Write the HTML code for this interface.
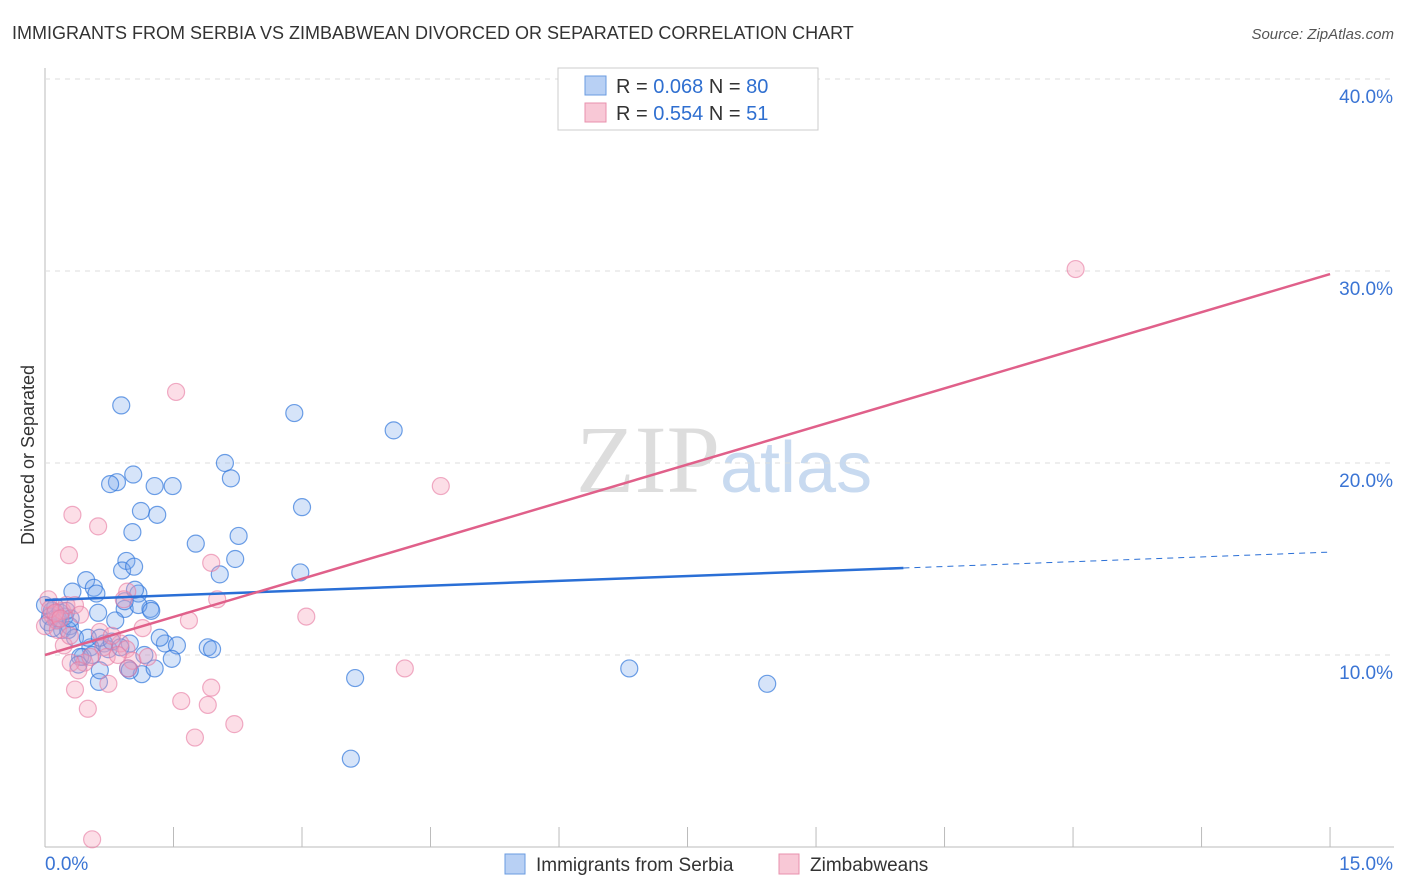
<!DOCTYPE html>
<html><head><meta charset="utf-8"><style>
body{margin:0;background:#fff;font-family:"Liberation Sans",sans-serif;}
svg{display:block}
</style></head><body>
<svg width="1406" height="892" id="c">
<text x="12" y="39" font-size="18" fill="#333">IMMIGRANTS FROM SERBIA VS ZIMBABWEAN DIVORCED OR SEPARATED CORRELATION CHART</text>
<text x="1394" y="39" font-size="15" fill="#555" font-style="italic" text-anchor="end">Source: ZipAtlas.com</text>
<text x="720" y="492" font-size="96" fill="#ddd" text-anchor="end" font-family="Liberation Serif">ZIP</text>
<text x="720" y="492" font-size="72" fill="#c8daf0">atlas</text>
<text transform="translate(34,455) rotate(-90)" font-size="18" fill="#333" text-anchor="middle">Divorced or Separated</text>
<g id="grid"></g><g id="pts"></g><g id="lines"></g>
<g>
<rect x="558" y="68" width="260" height="62" fill="#fff" stroke="#ccc"/>
<rect x="585" y="76" width="21" height="19" fill="#b8d0f4" stroke="#6a9be0"/>
<rect x="585" y="103" width="21" height="19" fill="#f8c8d6" stroke="#e891ad"/>
<text x="616" y="93" font-size="20" fill="#333">R = <tspan fill="#2f6fd0">0.068</tspan>   N = <tspan fill="#2f6fd0">80</tspan></text>
<text x="616" y="120" font-size="20" fill="#333">R = <tspan fill="#2f6fd0">0.554</tspan>   N =  <tspan fill="#2f6fd0">51</tspan></text>
</g>
<g>
<rect x="505" y="854" width="20" height="20" fill="#b8d0f4" stroke="#6a9be0"/>
<text x="536" y="871" font-size="19" fill="#333">Immigrants from Serbia</text>
<rect x="779" y="854" width="20" height="20" fill="#f8c8d6" stroke="#e891ad"/>
<text x="810" y="871" font-size="19" fill="#333">Zimbabweans</text>
</g>
</svg>
<script>
const yTicks=[10,20,30,40];
const xTickLabels=["0.0%","15.0%"];
const blueX=[0.89,2.91,4.07,2.10,1.03,0.84,0.76,1.28,1.49,2.17,3.00,1.12,1.31,1.02,2.26,1.76,0.95,2.22,0.90,1.04,2.04,2.98,0.48,0.32,0.57,1.09,0.60,0.93,1.23,1.09,1.24,0.62,0.82,1.40,1.54,1.90,1.95,0.99,0.69,0.53,0.74,0.44,1.16,1.48,0.97,1.13,1.28,0.63,3.62,6.82,8.43,3.57,0.08,0.14,0.20,0.06,0.12,0.29,0.04,0.23,0.35,0.41,0.50,0.64,0.78,0.88,1.34,0.18,0.27,0.39,0.55,0.64,0.99,0.93,1.05,0.00,0.09,0.15,0.25,0.30];
const blueY=[23.0,22.6,21.7,20.0,19.4,19.0,18.9,18.8,18.8,19.2,17.7,17.5,17.3,16.4,16.2,15.8,14.9,15.0,14.4,14.6,14.2,14.3,13.9,13.3,13.5,13.2,13.2,12.4,12.4,12.6,12.3,12.2,11.8,10.6,10.5,10.4,10.3,10.6,10.6,10.4,10.3,9.9,10.0,9.8,9.3,9.0,9.3,8.6,8.8,9.3,8.5,4.6,12.3,11.8,11.3,12.0,12.5,11.5,11.7,12.0,10.9,9.9,10.9,10.9,10.7,10.4,10.9,12.2,11.3,9.5,10.0,9.2,9.2,12.8,13.4,12.6,11.4,11.9,12.3,11.9];
const pinkX=[12.03,1.53,4.62,0.32,0.62,0.28,1.94,2.01,3.05,1.68,1.14,0.96,0.92,0.88,0.68,0.95,1.02,1.20,0.46,0.30,0.39,0.53,0.72,4.20,0.35,0.74,0.97,1.94,1.59,1.90,0.50,2.21,1.75,0.55,0.08,0.04,0.13,0.20,0.00,0.25,0.15,0.35,0.41,0.22,0.64,0.78,0.85,0.06,0.29,0.12,0.18];
const pinkY=[30.1,23.7,18.8,17.3,16.7,15.2,14.8,12.9,12.0,11.8,11.4,13.3,12.9,10.6,10.4,10.3,9.7,9.9,9.6,9.6,9.2,9.9,9.9,9.3,8.2,8.5,9.3,8.3,7.6,7.4,7.2,6.4,5.7,0.4,12.1,12.9,11.8,12.3,11.5,12.6,11.3,12.6,12.1,10.5,11.2,11.0,10.0,12.4,11.0,12.2,11.9];
const blueLine=[[0,12.86],[10.02,14.53],[15,15.36]];
const pinkLine=[[0,10.0],[15,29.84]];
const X=v=>45+v*85.67, Y=v=>847-v*19.2;
const ns="http://www.w3.org/2000/svg";
function mk(t,a,p){const e=document.createElementNS(ns,t);for(const k in a)e.setAttribute(k,a[k]);p.appendChild(e);return e;}
const g=document.getElementById('grid');
let ax=mk('line',{x1:45,y1:68,x2:45,y2:847,stroke:'#bbb'},g);


let bx=mk('line',{x1:45,y1:847,x2:1394,y2:847,stroke:'#bbb'},g);


for(let i=1;i<=10;i++){let t=mk('line',{x1:X(i*1.5),x2:X(i*1.5),y1:827,y2:847,stroke:'#bbb'},g);

}
yTicks.forEach(v=>{let l=mk('line',{x1:45,x2:1394,y1:Y(v),y2:Y(v),stroke:'#ddd','stroke-dasharray':'5,5'},g);


let t=mk('text',{x:1393,y:Y(v)+24,'font-size':19,fill:'#3a74d4','text-anchor':'end'},g);t.textContent=v.toFixed(1)+'%';

});
xTickLabels.forEach((s,i)=>{let t=mk('text',{x:i?1393:45,y:870,'font-size':19,fill:'#3a74d4','text-anchor':i?'end':'start'},g);t.textContent=s;

});
const p=document.getElementById('pts');
blueX.forEach((v,i)=>{let c=mk('circle',{cx:X(v),cy:Y(blueY[i]),r:8.5,fill:'rgba(120,165,235,0.3)',stroke:'rgba(50,120,220,0.7)','stroke-width':1.2},p);

});
pinkX.forEach((v,i)=>{let c=mk('circle',{cx:X(v),cy:Y(pinkY[i]),r:8.5,fill:'rgba(245,160,185,0.35)',stroke:'rgba(230,120,160,0.6)','stroke-width':1.2},p);

});
const L=document.getElementById('lines');
let b1=mk('line',{x1:X(blueLine[0][0]),y1:Y(blueLine[0][1]),x2:X(blueLine[1][0]),y2:Y(blueLine[1][1]),stroke:'#2a6fd6','stroke-width':2.5},L);


let b2=mk('line',{x1:X(blueLine[1][0]),y1:Y(blueLine[1][1]),x2:X(blueLine[2][0]),y2:Y(blueLine[2][1]),stroke:'#2a6fd6','stroke-width':1,'stroke-dasharray':'6,5'},L);


let p1=mk('line',{x1:X(pinkLine[0][0]),y1:Y(pinkLine[0][1]),x2:X(pinkLine[1][0]),y2:Y(pinkLine[1][1]),stroke:'#e0608a','stroke-width':2.5},L);


</script>
</body></html>
